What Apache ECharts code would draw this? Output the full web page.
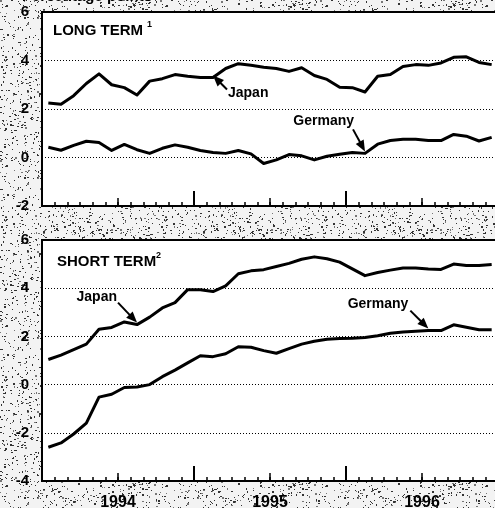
<!DOCTYPE html>
<html>
<head>
<meta charset="utf-8">
<script src="https://cdn.jsdelivr.net/npm/echarts@6/dist/echarts.min.js"></script>
<style>
  html, body { margin: 0; padding: 0; }
  body { width: 495px; height: 508px; overflow: hidden; background-color: #ececec; }
  #chart { width: 495px; height: 508px; }
</style>
</head>
<body>
<div id="chart"></div>
<script>
const years = ['1994', '1995', '1996']
const halfYears = ['1994 H1', '1994 H2', '1995 H1', '1995 H2', '1996 H1', '1996 H2']
const months = years.flatMap((y) =>
  ['01', '02', '03', '04', '05', '06', '07', '08', '09', '10', '11', '12'].map((m) => y + '-' + m)
)

// long-term differential, percentage points
const longJapan = [2.25, 2.2, 2.55, 3.05, 3.45, 3.0, 2.88, 2.58, 3.15, 3.25, 3.42, 3.35,
  3.3, 3.3, 3.67, 3.87, 3.8, 3.72, 3.67, 3.55, 3.7, 3.38, 3.22, 2.9,
  2.88, 2.7, 3.35, 3.42, 3.75, 3.83, 3.8, 3.9, 4.13, 4.15, 3.92, 3.83]
const longGermany = [0.42, 0.3, 0.5, 0.67, 0.62, 0.29, 0.54, 0.32, 0.17, 0.38, 0.52, 0.42,
  0.29, 0.21, 0.17, 0.29, 0.15, -0.25, -0.1, 0.12, 0.07, -0.1, 0.05, 0.13,
  0.21, 0.17, 0.55, 0.7, 0.75, 0.75, 0.7, 0.7, 0.95, 0.88, 0.68, 0.83]

// short-term differential
const shortJapan = [1.04, 1.22, 1.45, 1.68, 2.3, 2.37, 2.6, 2.49, 2.8, 3.18, 3.4, 3.94,
  3.94, 3.86, 4.1, 4.6, 4.72, 4.77, 4.9, 5.03, 5.2, 5.3, 5.22, 5.08,
  4.8, 4.52, 4.65, 4.75, 4.84, 4.84, 4.8, 4.78, 5.0, 4.94, 4.94, 4.98]
const shortGermany = [-2.6, -2.42, -2.05, -1.6, -0.52, -0.4, -0.12, -0.1, 0.0, 0.33, 0.6, 0.9,
  1.2, 1.16, 1.28, 1.57, 1.55, 1.41, 1.3, 1.49, 1.68, 1.8, 1.88, 1.91,
  1.92, 1.95, 2.03, 2.13, 2.18, 2.21, 2.24, 2.24, 2.48, 2.38, 2.28, 2.28]

const FONT = '"Liberation Sans", Arial, sans-serif'

// scanned-paper speckle behind the panels (fixed hash, same every run)
function speckle() {
  const size = 160
  const c = document.createElement('canvas')
  c.width = size
  c.height = size
  const g = c.getContext('2d')
  g.fillStyle = '#f3f3f3'
  g.fillRect(0, 0, size, size)
  const frac = (v) => v - Math.floor(v)
  for (let i = 0; i < 1500; i++) {
    const fx = frac(Math.sin(i * 12.9898) * 43758.5453)
    const fy = frac(Math.sin(i * 78.233) * 12543.137)
    g.fillStyle = i % 4 === 0 ? '#777' : '#333'
    g.fillRect(Math.floor(fx * size), Math.floor(fy * size), i % 3 === 0 ? 2 : 1, i % 5 === 0 ? 2 : 1)
  }
  document.body.style.backgroundImage = 'url(' + c.toDataURL() + ')'
}
speckle()

function xAxes(gridIndex, showYears) {
  const tick = (len, w) => ({ show: true, inside: true, length: len, interval: 0, lineStyle: { color: '#000', width: w } })
  return [
    {
      type: 'category', gridIndex, data: months, boundaryGap: true, position: 'bottom',
      axisLine: { show: true, onZero: false, lineStyle: { color: '#000', width: 2 } },
      axisTick: tick(4, 1.5),
      axisLabel: { show: false },
      z: 5
    },
    {
      type: 'category', gridIndex, data: halfYears, boundaryGap: true, position: 'bottom',
      axisLine: { show: false, onZero: false }, axisTick: tick(8, 1.5), axisLabel: { show: false }
    },
    {
      type: 'category', gridIndex, data: years, boundaryGap: true, position: 'bottom',
      axisLine: { show: false, onZero: false }, axisTick: tick(15, 2),
      axisLabel: {
        show: showYears, interval: 0, margin: 14,
        color: '#000', fontFamily: FONT, fontWeight: 'bold', fontSize: 16
      }
    }
  ]
}

function yAxis(gridIndex, min) {
  return {
    type: 'value', gridIndex, min, max: 6, interval: 2,
    axisLine: { show: true, onZero: false, lineStyle: { color: '#000', width: 2 } },
    axisTick: { show: false },
    axisLabel: { color: '#000', fontFamily: FONT, fontWeight: 'bold', fontSize: 15, margin: 13 },
    splitLine: { show: true, lineStyle: { color: '#000', width: 1, type: [1, 2] } }
  }
}

function line(data, xAxisIndex, yAxisIndex) {
  return {
    type: 'line', data, xAxisIndex, yAxisIndex,
    showSymbol: false, silent: true, z: 3,
    lineStyle: { color: '#000', width: 3, join: 'round' }
  }
}

const panel = { left: 42, right: -3, show: true, backgroundColor: '#fff', borderColor: '#000', borderWidth: 2, outerBoundsMode: 'none', containLabel: false }

const chart = echarts.init(document.getElementById('chart'))
chart.setOption({
  animation: false,
  backgroundColor: 'transparent',
  grid: [
    Object.assign({ top: 12, height: 194 }, panel),
    Object.assign({ top: 240, height: 241 }, panel)
  ],
  xAxis: [...xAxes(0, false), ...xAxes(1, true)],
  yAxis: [yAxis(0, -2), yAxis(1, -4)],
  series: [
    line(longJapan, 0, 0),
    line(longGermany, 0, 0),
    line(shortJapan, 3, 1),
    line(shortGermany, 3, 1)
  ]
})

function text(str, x, y, font, opts) {
  return {
    type: 'text', x, y, z: 10,
    style: Object.assign({ text: str, font: font + ' ' + FONT, fill: '#000', textVerticalAlign: 'top' }, opts || {})
  }
}

// labels with arrows pointing at a data point
const notes = [
  { label: 'Japan', data: longJapan, idx: 13, finder: { xAxisIndex: 0, yAxisIndex: 0 }, tail: [14, 14], txt: [1, -3], align: 'left' },
  { label: 'Germany', data: longGermany, idx: 25, finder: { xAxisIndex: 0, yAxisIndex: 0 }, tail: [-12, -22], txt: [1, -15], align: 'right' },
  { label: 'Japan', data: shortJapan, idx: 7, finder: { xAxisIndex: 3, yAxisIndex: 1 }, tail: [-19, -20], txt: [-1, -12], align: 'right' },
  { label: 'Germany', data: shortGermany, idx: 30, finder: { xAxisIndex: 3, yAxisIndex: 1 }, tail: [-18, -18], txt: [-2, -13], align: 'right' }
]

const graphics = [
  text('Percentage points', 22, -11, 'bold 15px'),
  text('LONG TERM', 53, 23, 'bold 15px'),
  text('1', 147, 20, 'bold 9px'),
  text('SHORT TERM', 57, 254, 'bold 15px'),
  text('2', 156, 251, 'bold 9px')
]

notes.forEach((n) => {
  const tip = chart.convertToPixel(n.finder, [n.idx, n.data[n.idx]])
  tip[1] -= 2
  const tail = [tip[0] + n.tail[0], tip[1] + n.tail[1]]
  const dx = tip[0] - tail[0]
  const dy = tip[1] - tail[1]
  const len = Math.sqrt(dx * dx + dy * dy)
  const ux = dx / len
  const uy = dy / len
  const hl = 11
  const hw = 4.5
  const base = [tip[0] - ux * hl, tip[1] - uy * hl]
  graphics.push({
    type: 'line', z: 10,
    shape: { x1: tail[0], y1: tail[1], x2: base[0] + ux, y2: base[1] + uy },
    style: { stroke: '#000', lineWidth: 2 }
  })
  graphics.push({
    type: 'polygon', z: 10,
    shape: { points: [tip, [base[0] - uy * hw, base[1] + ux * hw], [base[0] + uy * hw, base[1] - ux * hw]] },
    style: { fill: '#000' }
  })
  graphics.push(text(n.label, tail[0] + n.txt[0], tail[1] + n.txt[1], 'bold 14px', { textAlign: n.align }))
})

chart.setOption({ graphic: graphics })
</script>
</body>
</html>
